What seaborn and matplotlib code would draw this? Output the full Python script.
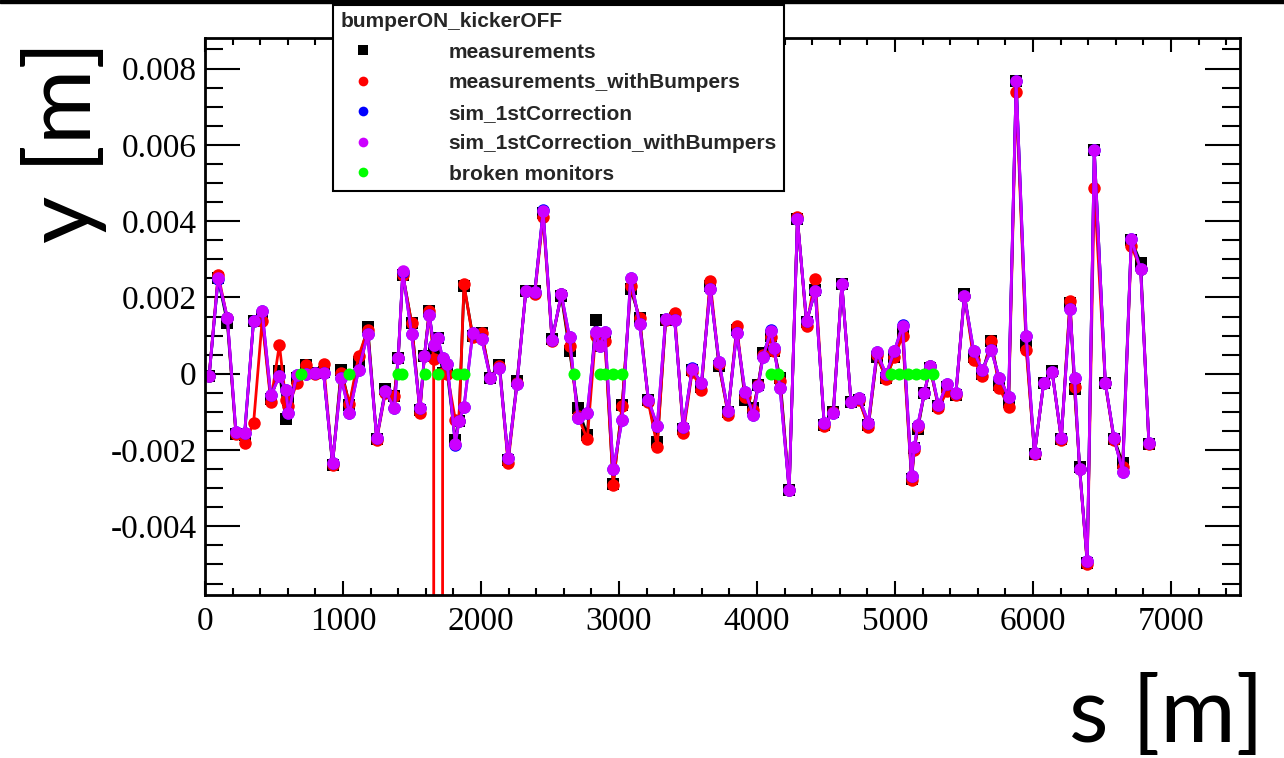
import numpy as np
import pandas as pd
import matplotlib
matplotlib.use("Agg")
import matplotlib.pyplot as plt
import seaborn as sns
from matplotlib.ticker import MultipleLocator, FuncFormatter
from matplotlib.lines import Line2D
from matplotlib.patches import Rectangle

# monitor positions along the ring [m]
s_pos = [30, 95, 162, 224, 287, 352, 414, 477, 539, 585, 605, 665, 733, 798, 859,
         924, 987, 1047, 1113, 1179, 1244, 1307, 1372, 1400, 1433, 1497, 1557, 1590,
         1625, 1657, 1688, 1722, 1755, 1814, 1840, 1877, 1940, 2005, 2068, 2134, 2196,
         2261, 2325, 2390, 2450, 2515, 2582, 2642, 2702, 2770, 2830, 2861, 2898, 2958,
         3023, 3084, 3149, 3213, 3277, 3338, 3403, 3466, 3530, 3597, 3660, 3725, 3790,
         3853, 3914, 3974, 4008, 4044, 4100, 4124, 4167, 4233, 4293, 4359, 4422, 4487,
         4553, 4615, 4681, 4741, 4807, 4869, 4935, 4995, 5055, 5120, 5140, 5165, 5213,
         5254, 5315, 5378, 5441, 5503, 5571, 5631, 5697, 5757, 5823, 5878, 5951, 6011,
         6077, 6139, 6205, 6268, 6301, 6338, 6393, 6444, 6524, 6587, 6650, 6712, 6780,
         6840]

# vertical orbit [mm]
meas = [-0.05, 2.50, 1.34, -1.58, -1.60, 1.39, 1.50, -0.65, 0.06, -1.19, -0.68, -0.10, 0.24, 0.02, 0.05,
        -2.38, 0.10, -0.82, 0.30, 1.23, -1.70, -0.40, -0.58, 0.41, 2.60, 1.33, -0.95, 0.46,
        1.64, 0.59, 0.94, 0.02, 0.05, -1.75, -1.25, 2.30, 1.00, 1.07, -0.10, 0.24, -2.25,
        -0.20, 2.17, 2.17, 4.20, 0.90, 2.05, 0.60, -0.90, -1.61, 1.42, 0.72, 0.96, -2.90,
        -0.82, 2.23, 1.46, -0.70, -1.80, 1.40, 1.45, -1.45, 0.10, -0.35, 2.30, 0.20, -1.00,
        1.15, -0.68, -0.90, -0.30, 0.54, 1.00, 0.60, -0.10, -3.05, 4.05, 1.35, 2.20, -1.35,
        -1.00, 2.35, -0.75, -0.70, -1.35, 0.45, -0.10, 0.45, 1.10, -2.75, -1.95, -1.46, -0.50,
        0.15, -0.85, -0.35, -0.55, 2.10, 0.45, 0.00, 0.85, -0.30, -0.75, 7.66, 0.75, -2.10,
        -0.25, 0.06, -1.70, 1.85, -0.40, -2.45, -4.95, 5.87, -0.25, -1.70, -2.35, 3.50, 2.91,
        -1.85]

meas_bump = [-0.05, 2.60, 1.45, -1.58, -1.81, -1.30, 1.39, -0.73, 0.76, -0.70, -0.85, -0.25, 0.24, 0.00, 0.25,
             -2.38, 0.02, -0.79, 0.46, 1.15, -1.73, -0.50, -0.58, 0.41, 2.60, 1.33, -1.02, 0.46,
             1.64, 0.39, -500.0, 0.02, 0.00, -1.21, -1.25, 2.34, 0.95, 1.07, -0.12, 0.20, -2.35,
             -0.25, 2.17, 2.10, 4.10, 0.85, 2.10, 0.72, -1.10, -1.72, 1.00, 0.75, 0.85, -2.92,
             -0.85, 2.30, 1.45, -0.75, -1.91, 1.42, 1.60, -1.56, 0.05, -0.42, 2.43, 0.25, -1.07,
             1.24, -0.62, -0.95, -0.30, 0.50, 0.95, 0.60, -0.20, -3.05, 4.10, 1.26, 2.49, -1.38,
             -1.00, 2.34, -0.75, -0.70, -1.39, 0.50, -0.14, 0.45, 0.98, -2.79, -2.00, -1.40, -0.50,
             0.20, -0.90, -0.46, -0.55, 2.05, 0.37, -0.07, 0.85, -0.38, -0.86, 7.39, 0.63, -2.10,
             -0.25, 0.04, -1.73, 1.90, -0.35, -2.50, -5.00, 4.86, -0.25, -1.75, -2.45, 3.35, 2.75,
             -1.85]

sim = [-0.05, 2.48, 1.46, -1.52, -1.55, 1.39, 1.64, -0.57, -0.05, -0.42, -1.03, -0.03, 0.00, 0.02, 0.02,
       -2.33, -0.12, -1.03, 0.10, 1.03, -1.69, -0.45, -0.90, 0.41, 2.66, 1.04, -0.90, 0.46,
       1.55, 0.76, 0.94, 0.41, 0.26, -1.87, -1.25, -0.86, 1.07, 0.91, -0.11, 0.15, -2.22,
       -0.27, 2.17, 2.14, 4.28, 0.89, 2.09, 0.95, -1.15, -1.02, 1.09, 0.72, 1.09, -2.51,
       -1.21, 2.52, 1.31, -0.68, -1.37, 1.44, 1.42, -1.40, 0.14, -0.25, 2.21, 0.32, -0.99,
       1.07, -0.48, -1.08, -0.32, 0.44, 1.15, 0.68, -0.38, -3.05, 4.05, 1.38, 2.17, -1.30,
       -1.04, 2.34, -0.73, -0.64, -1.28, 0.56, -0.02, 0.59, 1.28, -2.68, -1.91, -1.34, -0.51,
       0.21, -0.82, -0.26, -0.51, 2.03, 0.59, 0.10, 0.61, -0.11, -0.60, 7.66, 0.98, -2.09,
       -0.25, 0.04, -1.69, 1.70, -0.11, -2.51, -4.92, 5.87, -0.23, -1.69, -2.57, 3.53, 2.74,
       -1.82]

sim_bump = [-0.05, 2.52, 1.47, -1.52, -1.55, 1.39, 1.64, -0.57, -0.07, -0.42, -1.03, -0.03, 0.00, 0.02, 0.02,
            -2.33, -0.12, -1.03, 0.10, 1.03, -1.69, -0.45, -0.90, 0.41, 2.68, 1.04, -0.90, 0.46,
            1.55, 0.76, 0.94, 0.41, 0.26, -1.84, -1.25, -0.86, 1.07, 0.91, -0.11, 0.15, -2.22,
            -0.27, 2.17, 2.14, 4.26, 0.89, 2.09, 0.95, -1.15, -1.02, 1.09, 0.72, 1.09, -2.51,
            -1.21, 2.52, 1.31, -0.68, -1.37, 1.44, 1.42, -1.40, 0.12, -0.25, 2.21, 0.32, -0.99,
            1.07, -0.48, -1.08, -0.32, 0.44, 1.11, 0.68, -0.38, -3.05, 4.05, 1.38, 2.17, -1.30,
            -1.04, 2.34, -0.73, -0.64, -1.28, 0.56, 0.00, 0.59, 1.25, -2.68, -1.91, -1.34, -0.51,
            0.21, -0.82, -0.26, -0.51, 2.03, 0.59, 0.10, 0.61, -0.11, -0.60, 7.66, 0.98, -2.09,
            -0.25, 0.04, -1.69, 1.70, -0.11, -2.51, -4.92, 5.87, -0.23, -1.69, -2.57, 3.53, 2.74,
            -1.82]

# broken monitors (drawn at y = 0)
broken_s = [694, 1047, 1400, 1430, 1597, 1688, 1826, 1875, 2673, 2862, 2902, 2958, 3023,
            4100, 4150, 4971, 5031, 5092, 5152, 5213, 5273]

legend_title = "bumperON_kickerOFF"
series = [
    ("measurements", meas, "black", "s"),
    ("measurements_withBumpers", meas_bump, "#ff0000", "o"),
    ("sim_1stCorrection", sim, "#0000ff", "o"),
    ("sim_1stCorrection_withBumpers", sim_bump, "#cc00ff", "o"),
]

sns.set_style("ticks")
plt.rcParams["font.family"] = ["Liberation Serif", "DejaVu Serif"]

fig = plt.figure(figsize=(12.84, 7.58), dpi=100)
ax = fig.add_axes([205 / 1284, 1 - 595 / 758, (1240 - 205) / 1284, (595 - 38) / 758])

for name, vals, col, mk in series:
    df = pd.DataFrame({"s": s_pos, "y": np.array(vals) * 1e-3})
    sns.lineplot(data=df, x="s", y="y", ax=ax, color=col, marker=mk, markersize=9,
                 markeredgewidth=0, linewidth=2.0, sort=False, estimator=None, legend=False)

df_b = pd.DataFrame({"s": broken_s, "y": np.zeros(len(broken_s))})
sns.scatterplot(data=df_b, x="s", y="y", ax=ax, color="#00ff00", s=75, linewidth=0,
                zorder=5, legend=False)

ax.set_xlim(0, 7500)
ax.set_ylim(-0.0058, 0.0088)
ax.set_xlabel("")
ax.set_ylabel("")
ax.xaxis.set_major_locator(MultipleLocator(1000))
ax.xaxis.set_minor_locator(MultipleLocator(200))
ax.yaxis.set_major_locator(MultipleLocator(0.002))
ax.yaxis.set_minor_locator(MultipleLocator(0.0005))
ax.yaxis.set_major_formatter(FuncFormatter(lambda v, p: "0" if abs(v) < 1e-9 else f"{v:.3f}"))
ax.xaxis.set_major_formatter(FuncFormatter(lambda v, p: f"{int(round(v))}"))
ax.tick_params(axis="both", which="both", direction="in", top=True, right=True,
               width=1.5, colors="black", labelsize=24)
ax.tick_params(axis="y", which="major", length=25, pad=6)
ax.tick_params(axis="y", which="minor", length=13)
ax.tick_params(axis="x", which="major", length=10, pad=8)
ax.tick_params(axis="x", which="minor", length=5)
for sp in ax.spines.values():
    sp.set_linewidth(2)
    sp.set_color("black")

fig.text(0.05, 0.813, "y [m]", rotation=90, ha="center", va="center",
         fontsize=66, family="Lato", color="black")
fig.text(0.984, 0.055, "s [m]", ha="right", va="center", fontsize=66, family="Lato",
         color="black")

handles = [Line2D([], [], color=col, marker=mk, linestyle="none", markersize=7,
                  markeredgewidth=0, label=name) for name, vals, col, mk in series]
handles.append(Line2D([], [], color="#00ff00", marker="o", linestyle="none", markersize=7,
                      markeredgewidth=0, label="broken monitors"))
leg = fig.legend(handles=handles, title=legend_title, loc="upper left",
                 bbox_to_anchor=(333 / 1284, 1 - 5 / 758), borderaxespad=0,
                 prop={"family": "Liberation Sans", "weight": "bold", "size": 15},
                 title_fontproperties={"family": "Liberation Sans", "weight": "bold", "size": 15},
                 alignment="left", frameon=True, fancybox=False, framealpha=1,
                 borderpad=0.35, handlelength=2.2, handletextpad=3.0, labelspacing=0.55)
leg.get_frame().set_edgecolor("black")
leg.get_frame().set_linewidth(1.5)

fig.add_artist(Rectangle((0, 1 - 3 / 758), 1, 3 / 758, transform=fig.transFigure,
                         color="black", zorder=0))

fig.savefig("out.png", dpi=100)
